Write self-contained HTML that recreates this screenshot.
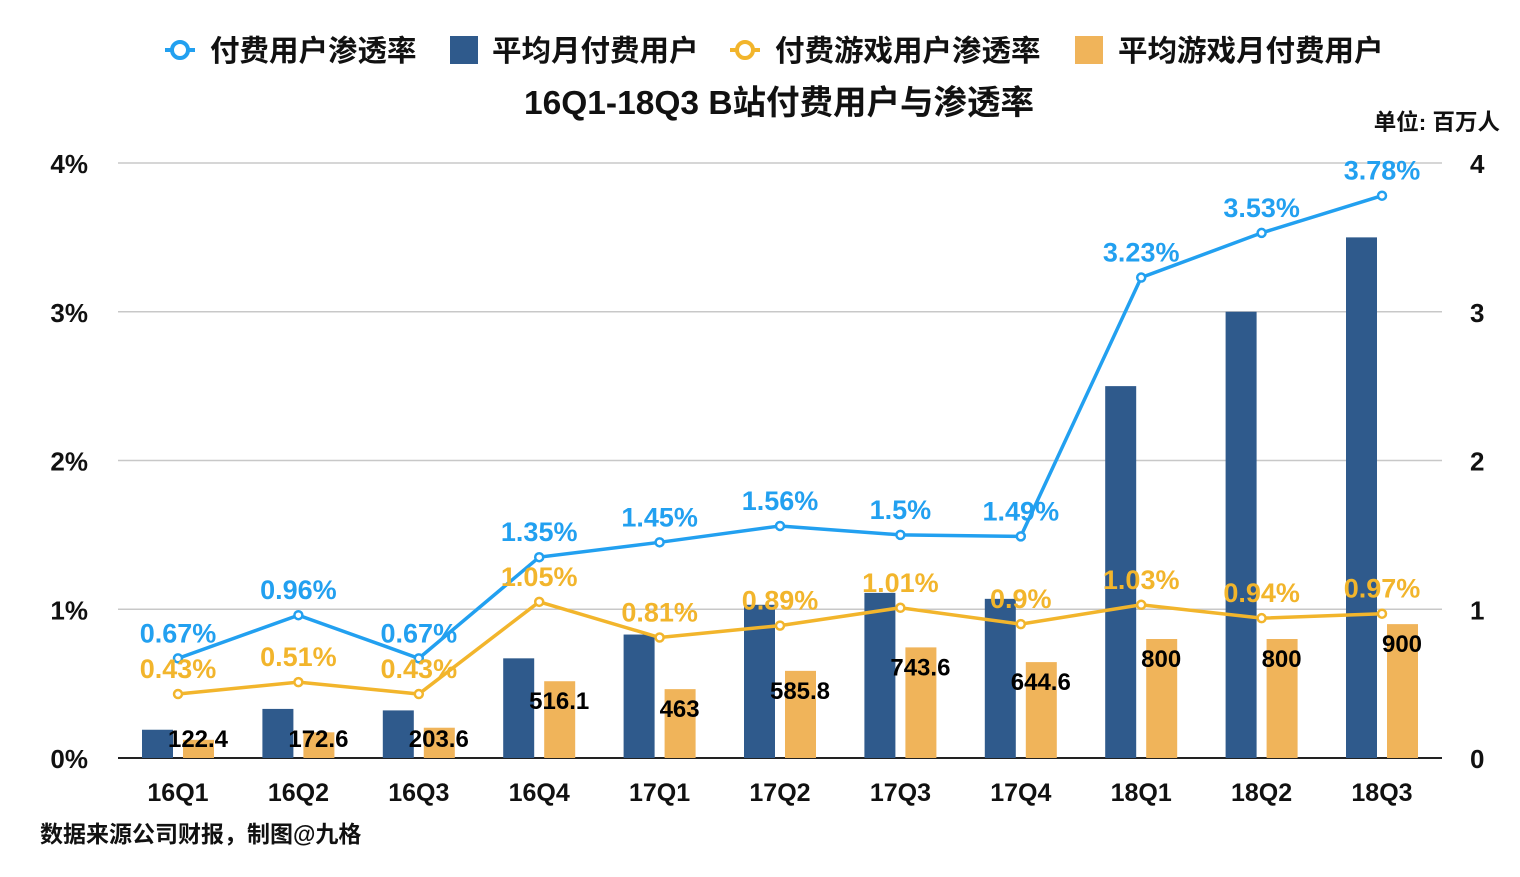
<!DOCTYPE html>
<html><head><meta charset="utf-8"><style>
body{margin:0;background:#fff;width:1520px;height:872px;overflow:hidden;font-family:"Liberation Sans","Noto Sans CJK SC",sans-serif}
</style></head><body>
<svg id="chart" width="1520" height="872" xmlns="http://www.w3.org/2000/svg" font-family="Liberation Sans, Noto Sans CJK SC, sans-serif">
<g id="legend" font-size="29.5" font-weight="bold" fill="#111">
 <g><line x1="165" y1="50" x2="195" y2="50" stroke="#22a0f0" stroke-width="4"/><circle cx="180" cy="50" r="8" fill="#fff" stroke="#22a0f0" stroke-width="4"/><text x="210" y="61">付费用户渗透率</text></g>
 <g><rect x="450" y="36" width="28" height="28" fill="#2f5a8c"/><text x="492" y="61">平均月付费用户</text></g>
 <g><line x1="730" y1="50" x2="760" y2="50" stroke="#f2b52c" stroke-width="4"/><circle cx="745" cy="50" r="8" fill="#fff" stroke="#f2b52c" stroke-width="4"/><text x="775" y="61">付费游戏用户渗透率</text></g>
 <g><rect x="1075" y="36" width="28" height="28" fill="#f0b45a"/><text x="1118" y="61">平均游戏月付费用户</text></g>
</g>
<text x="779" y="114" text-anchor="middle" font-size="33.5" font-weight="bold" fill="#111">16Q1-18Q3 B站付费用户与渗透率</text>
<text x="1500" y="130" text-anchor="end" font-size="22.5" font-weight="bold" fill="#111">单位: 百万人</text>
<text x="40" y="842" font-size="23" font-weight="bold" fill="#111">数据来源公司财报，制图@九格</text>
<g id="grid"></g><g id="bars"></g><g id="lines"></g><g id="labels"></g><g id="axes"></g>
</svg>
<script>
const categories=["16Q1","16Q2","16Q3","16Q4","17Q1","17Q2","17Q3","17Q4","18Q1","18Q2","18Q3"];
const avgPaidUsers=[0.19,0.33,0.32,0.67,0.83,1.03,1.11,1.07,2.5,3.0,3.5];
const avgGameUsers=[122.4,172.6,203.6,516.1,463,585.8,743.6,644.6,800,800,900];
const paidPenetration=[0.67,0.96,0.67,1.35,1.45,1.56,1.5,1.49,3.23,3.53,3.78];
const gamePenetration=[0.43,0.51,0.43,1.05,0.81,0.89,1.01,0.9,1.03,0.94,0.97];
const leftTicks=["0%","1%","2%","3%","4%"];
const rightTicks=["0","1","2","3","4"];
const NS="http://www.w3.org/2000/svg";
const y0=758,unit=148.75,xL=118,xR=1442;
const yv=v=>y0-v*unit;
const xc=i=>178+i*120.4;
function mk(tag,attrs,parent,txt){const e=document.createElementNS(NS,tag);for(const k in attrs)e.setAttribute(k,attrs[k]);if(txt!==undefined)e.textContent=txt;document.getElementById(parent).appendChild(e);return e;}
leftTicks.forEach((t,i)=>{
 const g=mk("line",{x1:xL,x2:xR,y1:yv(i),y2:yv(i),stroke:i===0?"#222":"#c8c8c8","stroke-width":i===0?2:1.5},"grid");
 
 
 const l=mk("text",{x:88,y:yv(i)+10,"text-anchor":"end","font-size":26,"font-weight":"bold",fill:"#111"},"axes",t);
 
 
 const r=mk("text",{x:1470,y:yv(i)+10,"font-size":26,"font-weight":"bold",fill:"#111"},"axes",rightTicks[i]);
 
 
});
categories.forEach((c,i)=>{
 const t=mk("text",{x:xc(i),y:801,"text-anchor":"middle","font-size":25,"font-weight":"bold",fill:"#111"},"axes",c);
 
 
 const b=mk("rect",{x:xc(i)-36,y:yv(avgPaidUsers[i]),width:31,height:avgPaidUsers[i]*unit,fill:"#2f5a8c"},"bars");
 
 
 const gv=avgGameUsers[i]/1000;
 const o=mk("rect",{x:xc(i)+5,y:yv(gv),width:31,height:gv*unit,fill:"#f0b45a"},"bars");
 
 
 const vl=mk("text",{x:xc(i)+20,y:Math.min(yv(gv)+28,747),"text-anchor":"middle","font-size":24,"font-weight":"bold",fill:"#000"},"labels",String(avgGameUsers[i]));
 
 
});
function series(vals,color,name){
 const p=mk("polyline",{points:vals.map((v,i)=>xc(i)+","+yv(v)).join(" "),fill:"none",stroke:color,"stroke-width":3.5},"lines");
 
 
 vals.forEach((v,i)=>{
  const c=mk("circle",{cx:xc(i),cy:yv(v),r:4,fill:"#fff",stroke:color,"stroke-width":2.5},"lines");
  
  
  const t=mk("text",{x:xc(i),y:yv(v)-16,"text-anchor":"middle","font-size":27,"font-weight":"bold",fill:color},"labels",v+"%");
  
  
 });
}
series(gamePenetration,"#f2b52c","game-penetration");
series(paidPenetration,"#22a0f0","paid-penetration");
</script>
</body></html>
